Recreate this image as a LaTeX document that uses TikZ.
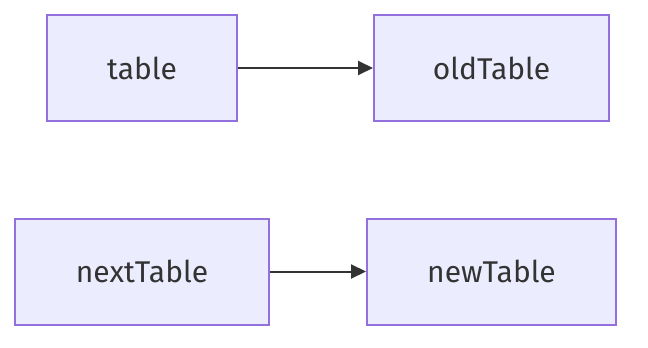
\documentclass[tikz,border=0pt]{standalone}
\usepackage{fontspec}
\setmainfont{Fira Sans}
\usetikzlibrary{arrows.meta, positioning}
\definecolor{boxFill}{HTML}{ECECFF}
\definecolor{boxLine}{HTML}{9370DB}
\definecolor{textDark}{HTML}{333333}

\begin{document}
\begin{tikzpicture}[
    x=1pt, y=-1pt,
    tbl/.style={rectangle, draw=boxLine, fill=boxFill, line width=2pt,
                minimum width=#1, minimum height=106pt, inner sep=0pt,
                font=\fontsize{30}{36}\selectfont\color{textDark}},
    link/.style={draw=textDark, line width=2pt,
                 -{Triangle[length=15pt, width=14pt]}},
  ]
    \useasboundingbox (0,0) rectangle (648,348);

    % top row
    \node[tbl=190pt] (table) at (142,68) {table};
    \node[tbl=235pt] (oldTable) at (491.5,68) {oldTable};

    % bottom row
    \node[tbl=254pt] (nextTable) at (142,271.5) {nextTable};
    \node[tbl=249pt] (newTable) at (491.5,271.5) {newTable};

    \draw[link] (table) -- (oldTable);
    \draw[link] (nextTable) -- (newTable);
  \end{tikzpicture}
\end{document}
